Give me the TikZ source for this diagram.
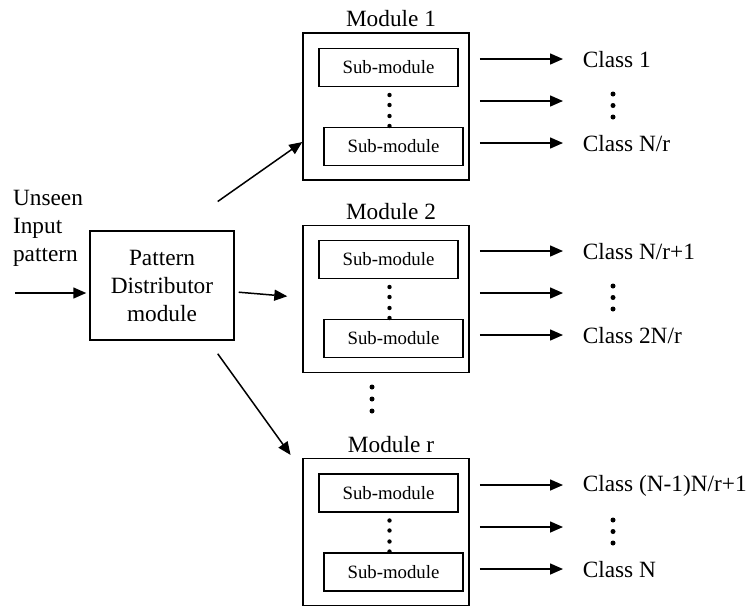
\documentclass[tikz,border=0pt]{standalone}
\usepackage{fontspec}
\setmainfont{Liberation Serif}
\usetikzlibrary{arrows.meta, positioning}
\tikzstyle{distributor} = [rectangle, draw, minimum width=144pt, minimum height=109pt, align=center]
\tikzstyle{module} = [rectangle, draw, minimum width=166pt, minimum height=147pt]
\tikzstyle{submodule} = [rectangle, draw, minimum width=139pt, minimum height=38pt, font=\fontsize{18.8pt}{22pt}\selectfont]
\tikzstyle{classlabel} = [anchor=west, inner sep=0pt]
\tikzstyle{arrow} = [-{Triangle[length=13pt, width=11pt]}, line width=1.5pt]

\begin{document}
\begin{tikzpicture}[x=1pt, y=-1pt, line width=1.5pt, font=\fontsize{23.3pt}{28pt}\selectfont]
\useasboundingbox (0,0) rectangle (749,606);

\node[align=left, anchor=west] (input) at (9,228) {Unseen\\Input\\pattern};
\coordinate (in) at (15,293);
\node[distributor] (dist) at (162,285.5) {Pattern\\Distributor\\module};

% Module 1
\node[module] (mod1) at (386,106.5) {};
\node[above=0pt of mod1, xshift=5pt, yshift=1pt] (lab1) {Module 1};
\node[submodule] (sub11) at (388.5,67.5) {Sub-module};
\node[submodule] (sub12) at (393.5,146.5) {Sub-module};
\fill (389.5,95) circle (2.2pt) (389.5,105) circle (2.2pt) (389.5,116) circle (2.2pt) (389.5,126) circle (2.2pt);
\node[classlabel] (cls11) at (582,60) {Class 1};
\coordinate (cls12) at (582,101);
\node[classlabel] (cls13) at (582,144) {Class N/r};
\fill (613,94) circle (2.5pt) (613,105.5) circle (2.5pt) (613,117) circle (2.5pt);

% Module 2
\node[module] (mod2) at (386,299) {};
\node[above=0pt of mod2, xshift=5pt, yshift=1pt] (lab2) {Module 2};
\node[submodule] (sub21) at (388.5,259.5) {Sub-module};
\node[submodule] (sub22) at (393.5,338.5) {Sub-module};
\fill (389.5,287) circle (2.2pt) (389.5,297) circle (2.2pt) (389.5,308) circle (2.2pt) (389.5,318) circle (2.2pt);
\node[classlabel] (cls21) at (582,252) {Class N/r+1};
\coordinate (cls22) at (582,293);
\node[classlabel] (cls23) at (582,336) {Class 2N/r};
\fill (613,286) circle (2.5pt) (613,297.5) circle (2.5pt) (613,309) circle (2.5pt);

% more modules
\fill (372,387) circle (2.5pt) (372,399) circle (2.5pt) (372,411) circle (2.5pt);

% Module r
\node[module] (modr) at (386,532) {};
\node[above=0pt of modr, xshift=5pt, yshift=1pt] (labr) {Module r};
\node[submodule] (subr1) at (388.5,493) {Sub-module};
\node[submodule] (subr2) at (393.5,572) {Sub-module};
\fill (389.5,520.5) circle (2.2pt) (389.5,530.5) circle (2.2pt) (389.5,541.5) circle (2.2pt) (389.5,551.5) circle (2.2pt);
\node[classlabel] (clsr1) at (582,486) {Class (N-1)N/r+1};
\coordinate (clsr2) at (582,527);
\node[classlabel] (clsr3) at (582,570) {Class N};
\fill (613,520) circle (2.5pt) (613,531.5) circle (2.5pt) (613,543) circle (2.5pt);

% input and distributor arrows
\draw[arrow, shorten >=3pt] (in) -- (in -| dist.west);
\draw[arrow, shorten <=50pt] (dist.75) -- (mod1.203);
\draw[arrow, shorten <=4pt, shorten >=15pt] (dist.355) -- (mod2.179);
\draw[arrow, shorten <=16pt, shorten >=20pt] (dist.310) -- (modr.144);

% class arrows
\draw[arrow, shorten <=10pt, shorten >=19pt] (mod1.east |- 0,59) -- (cls11.west |- 0,59);
\draw[arrow, shorten <=10pt, shorten >=19pt] (mod1.east |- cls12) -- (cls12);
\draw[arrow, shorten <=10pt, shorten >=19pt] (mod1.east |- 0,143) -- (cls13.west |- 0,143);
\draw[arrow, shorten <=10pt, shorten >=19pt] (mod2.east |- 0,251) -- (cls21.west |- 0,251);
\draw[arrow, shorten <=10pt, shorten >=19pt] (mod2.east |- cls22) -- (cls22);
\draw[arrow, shorten <=10pt, shorten >=19pt] (mod2.east |- 0,335) -- (cls23.west |- 0,335);
\draw[arrow, shorten <=10pt, shorten >=19pt] (modr.east |- 0,485) -- (clsr1.west |- 0,485);
\draw[arrow, shorten <=10pt, shorten >=19pt] (modr.east |- clsr2) -- (clsr2);
\draw[arrow, shorten <=10pt, shorten >=19pt] (modr.east |- 0,569) -- (clsr3.west |- 0,569);

\end{tikzpicture}
\end{document}
